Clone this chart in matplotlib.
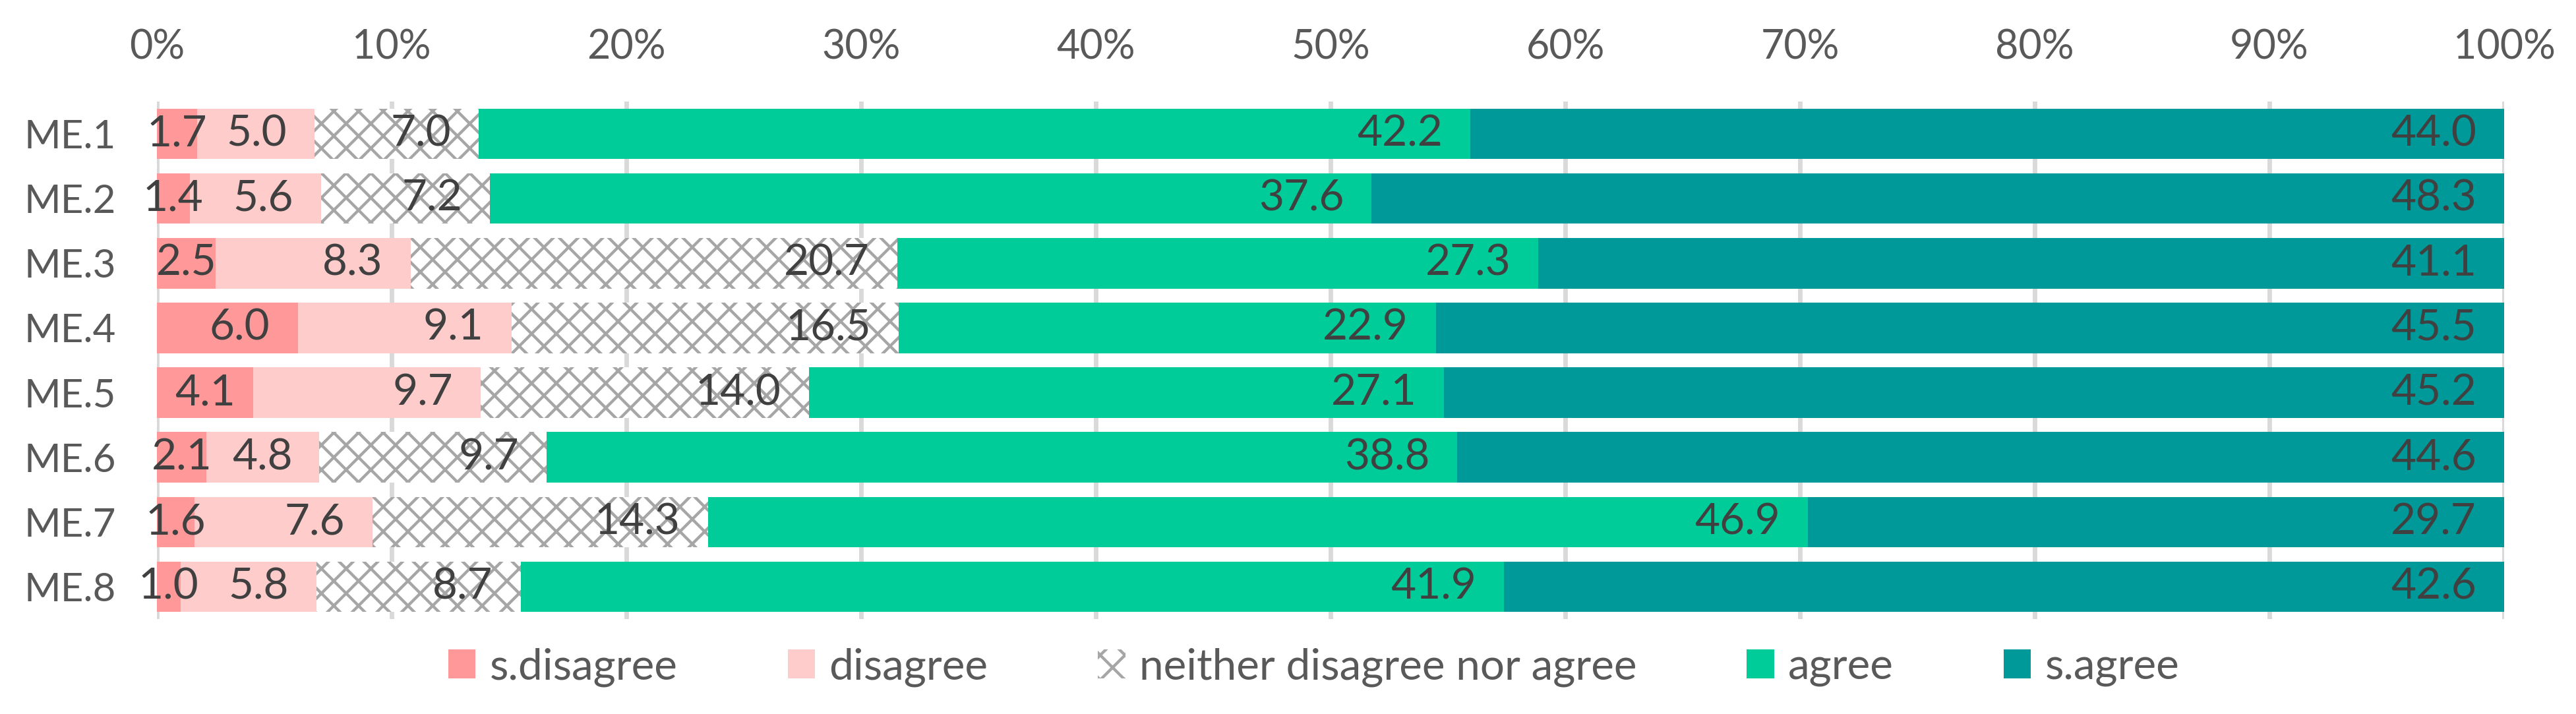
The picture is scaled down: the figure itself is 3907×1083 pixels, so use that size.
import numpy as np
import matplotlib
matplotlib.use('Agg')
from matplotlib import pyplot as plt

items = ['ME.1', 'ME.2', 'ME.3', 'ME.4', 'ME.5', 'ME.6', 'ME.7', 'ME.8']
legenda = ['s.disagree', 'disagree', 'neither disagree nor agree', 'agree', 's.agree']
s_disagree = [1.7, 1.4, 2.5, 6.0, 4.1, 2.1, 1.6, 1.0]
disagree = [5.0, 5.6, 8.3, 9.1, 9.7, 4.8, 7.6, 5.8]
neither = [7.0, 7.2, 20.7, 16.5, 14.0, 9.7, 14.3, 8.7]
agree = [42.2, 37.6, 27.3, 22.9, 27.1, 38.8, 46.9, 41.9]
s_agree = [44.0, 48.3, 41.1, 45.5, 45.2, 44.6, 29.7, 42.6]
ticks = [0, 10, 20, 30, 40, 50, 60, 70, 80, 90, 100]

cores = ['#FF9999', '#FFCCCC', 'white', '#00CC99', '#009999']
hatches = [None, None, 'xx', None, None]

plt.rcParams['font.family'] = ['Lato', 'DejaVu Sans']
plt.rcParams['hatch.color'] = '#A6A6A6'
plt.rcParams['hatch.linewidth'] = 1.4

dpi = 225
fig = plt.figure(figsize=(3907 / dpi, 1083 / dpi), dpi=dpi)
ax = fig.add_axes([238 / 3907, 1 - 939 / 1083, (3798 - 238) / 3907, (939 - 154) / 1083])

dados = np.array([s_disagree, disagree, neither, agree, s_agree])
perc = dados / dados.sum(axis=0) * 100
y = np.arange(len(items))

ax.set_xlim(0, 100)
ax.set_ylim(len(items) - 0.5, -0.5)
ax.grid(axis='x', color='#D9D9D9', linewidth=2.2)
ax.set_axisbelow(True)

esquerda = np.zeros(len(items))
barras = []
for k in range(5):
    b = ax.barh(y, perc[k], left=esquerda, height=0.78, color=cores[k],
                hatch=hatches[k], edgecolor='#A6A6A6', linewidth=0, label=legenda[k])
    barras.append((b, esquerda.copy(), perc[k].copy(), dados[k]))
    esquerda += perc[k]

for s in ax.spines.values():
    s.set_visible(False)
ax.xaxis.tick_top()
ax.set_xticks(ticks)
ax.set_xticklabels([str(t) + '%' for t in ticks])
ax.set_yticks(y)
ax.set_yticklabels(items)
ax.tick_params(axis='x', length=0, pad=17, labelsize=19.5, labelcolor='#595959')
ax.tick_params(axis='y', length=0, pad=20, labelsize=19.2, labelcolor='#595959')

# rotulos dentro do fim, centralizados se nao couber
fig.canvas.draw()
r = fig.canvas.get_renderer()
px_por_unidade = ax.get_window_extent().width / 100.0
gap = 42
for b, esq, larg, val in barras:
    for i in range(len(items)):
        t = ax.text(esq[i] + larg[i] / 2, y[i], '%.1f' % val[i], ha='center', va='center',
                    fontsize=21, color='#404040')
        w = t.get_window_extent(r).width
        if w + 2 * gap < larg[i] * px_por_unidade:
            t.set_x(esq[i] + larg[i] - gap / px_por_unidade)
            t.set_ha('right')

fig.legend(loc='center', bbox_to_anchor=(0.51, 1 - 1012 / 1083), ncol=5, frameon=False,
           fontsize=21, labelcolor='#595959', handlelength=0.63, handleheight=0.66,
           handletextpad=0.32, columnspacing=2.55)

fig.savefig('out.png', dpi=dpi)
